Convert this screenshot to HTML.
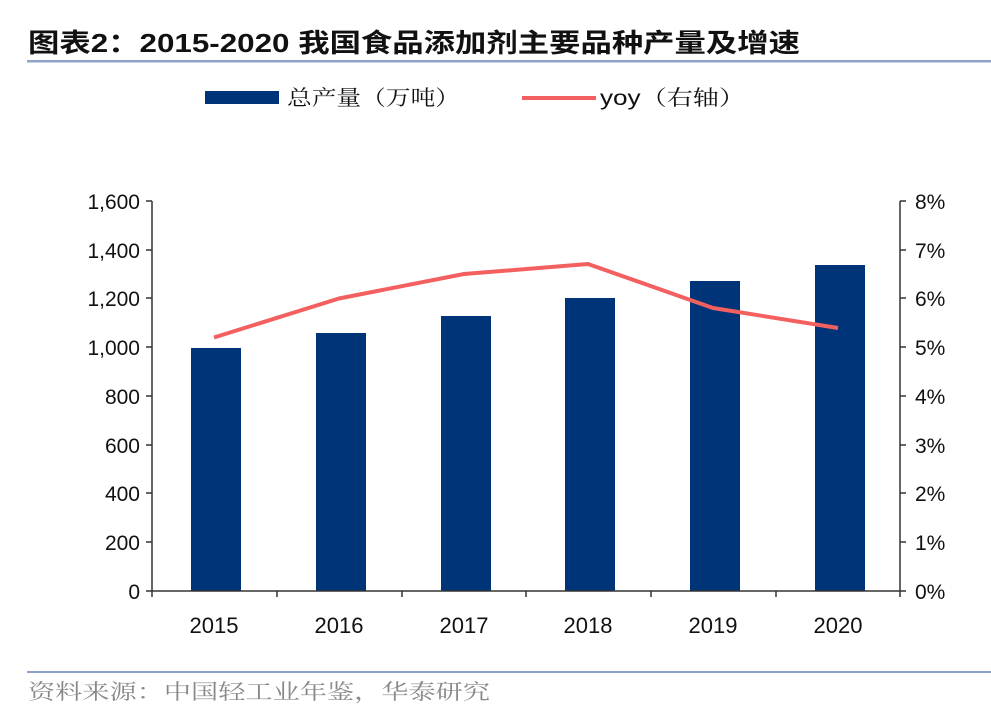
<!DOCTYPE html>
<html><head><meta charset="utf-8"><style>
body{margin:0;background:#fff;width:991px;height:720px;overflow:hidden;}
</style></head><body>
<svg width="991" height="720" xmlns="http://www.w3.org/2000/svg" font-family="'Liberation Sans','Noto Sans CJK SC',sans-serif">
<text x="28" y="52" font-size="26" font-weight="bold" fill="#111" textLength="772" lengthAdjust="spacingAndGlyphs">图表2：2015-2020 我国食品添加剂主要品种产量及增速</text>
<rect x="27" y="60" width="964" height="2.5" fill="#8ea3c4"/>
<rect x="205" y="91" width="74" height="13" fill="#003478"/>
<text x="287" y="105" font-size="21" fill="#111" font-family="'Noto Serif CJK SC',serif" textLength="173" lengthAdjust="spacingAndGlyphs">总产量（万吨）</text>
<rect x="522" y="96" width="74" height="4" fill="#f46060"/>
<text x="600" y="105" font-size="21" fill="#111" textLength="145" lengthAdjust="spacingAndGlyphs">yoy<tspan font-family="'Noto Serif CJK SC',serif">（右轴）</tspan></text>
<g fill="#003478">
<rect x="191" y="348" width="50" height="243"/>
<rect x="316" y="333" width="50" height="258"/>
<rect x="441" y="316" width="50" height="275"/>
<rect x="565" y="298" width="50" height="293"/>
<rect x="690" y="281" width="50" height="310"/>
<rect x="815" y="265" width="50" height="326"/>
</g>
<g stroke="#333" stroke-width="1.5" fill="none">
<line x1="152" y1="201" x2="152" y2="597"/>
<line x1="900" y1="201" x2="900" y2="597"/>
<line x1="146" y1="591" x2="906" y2="591"/>
<path d="M146 201h6M146 250h6M146 298h6M146 347h6M146 396h6M146 445h6M146 493h6M146 542h6"/>
<path d="M900 201h6M900 250h6M900 298h6M900 347h6M900 396h6M900 445h6M900 493h6M900 542h6"/>
<path d="M277 591v6M402 591v6M526 591v6M651 591v6M776 591v6"/>
</g>
<polyline points="214,337.5 339,298.5 464,274 588,264 713,308 838,328" fill="none" stroke="#f46060" stroke-width="4" stroke-linejoin="round"/>
<g font-size="21" fill="#111" text-anchor="end">
<text x="140" y="209">1,600</text><text x="140" y="258">1,400</text><text x="140" y="306">1,200</text><text x="140" y="355">1,000</text><text x="140" y="404">800</text><text x="140" y="453">600</text><text x="140" y="501">400</text><text x="140" y="550">200</text><text x="140" y="599">0</text>
</g>
<g font-size="21" fill="#111">
<text x="915" y="209">8%</text><text x="915" y="258">7%</text><text x="915" y="306">6%</text><text x="915" y="355">5%</text><text x="915" y="404">4%</text><text x="915" y="453">3%</text><text x="915" y="501">2%</text><text x="915" y="550">1%</text><text x="915" y="599">0%</text>
</g>
<g font-size="22" fill="#111" text-anchor="middle">
<text x="214" y="633">2015</text><text x="339" y="633">2016</text><text x="464" y="633">2017</text><text x="588" y="633">2018</text><text x="713" y="633">2019</text><text x="838" y="633">2020</text>
</g>
<rect x="27" y="671" width="964" height="2" fill="#8ea3c4"/>
<text x="28" y="699" font-size="21" fill="#888" font-family="'Noto Serif CJK SC',serif" textLength="462" lengthAdjust="spacingAndGlyphs">资料来源：中国轻工业年鉴，华泰研究</text>
</svg>
</body></html>
